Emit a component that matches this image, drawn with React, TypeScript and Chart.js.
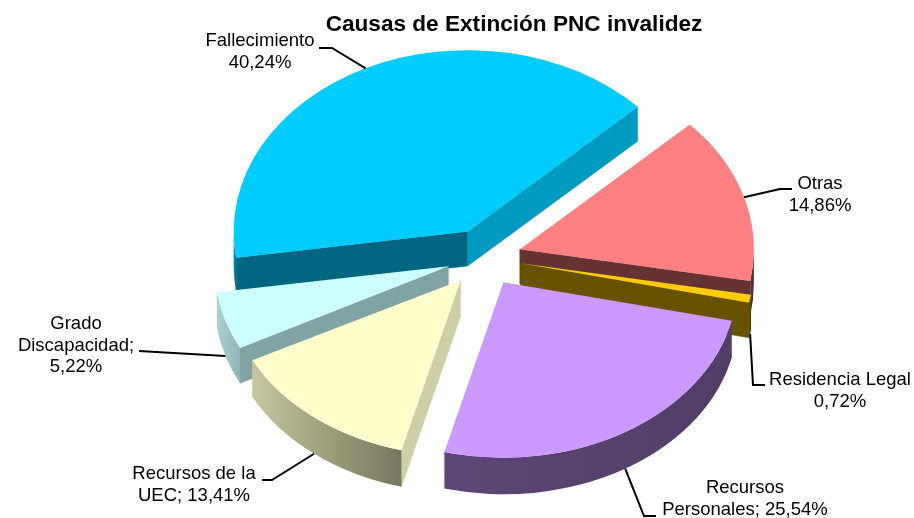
import React, { useEffect, useRef } from "react";
import { Chart, registerables } from "chart.js";

Chart.register(...registerables);

const categories = ["Fallecimiento", "Otras", "Residencia Legal", "Recursos Personales", "Recursos de la UEC", "Grado Discapacidad"];
const shares = [40.24, 14.86, 0.72, 25.54, 13.41, 5.22];
const topColors = ["#00CCFF", "#FF8080", "#FFCC00", "#CC99FF", "#FFFFCC", "#CCFFFF"];
const startWallColors = ["#006680", "#993D3D", "#806600", "#6B4F8A", "#CFCFA6", "#80A3A3"];
const endWallColors = ["#0099BF", "#663333", "#665200", "#523D66", "#CFCFA6", "#80A3A3"];
const rimLeftColors = ["#0089AB", "#663333", "#665200", "#5E4678", "#C6C6A0", "#A9D2D4"];
const rimRightColors = ["#006B86", "#4D2626", "#4D3D00", "#523D66", "#77775C", "#8FB5BA"];
const labelLines = [
  ["Fallecimiento", "40,24%"],
  ["Otras", "14,86%"],
  ["Residencia Legal", "0,72%"],
  ["Recursos", "Personales; 25,54%"],
  ["Recursos de la", "UEC; 13,41%"],
  ["Grado", "Discapacidad;", "5,22%"],
];
const labelCentreX = [260, 820, 840, 745, 194, 76];
const labelFirstLineY = [41, 184, 380, 488, 474, 324];
const leaderElbows = [
  [[319, 48], [332, 48]],
  [[792, 189], [780, 189]],
  [[765, 385], [753, 385]],
  [[656, 516], [644, 516]],
  [[262, 480], [272, 480]],
  [[139, 351]],
];

const BACK_TILT = 0.775;
const FRONT_TILT_LOSS = 0.03;
const BACK_DEPTH = 34.5;
const FRONT_DEPTH_GAIN = 2.5;
const EXPLODE = 37.4;
const RADIUS = 234;
const FONT = '"Liberation Sans", Arial, sans-serif';
const LABEL_SIZE = 18.5;
const LINE_STEP = 21.5;

const frontness = (mid: number) => Math.max(0, Math.sin(mid));
const tiltOf = (mid: number) => BACK_TILT - FRONT_TILT_LOSS * frontness(mid);
const depthOf = (mid: number) => BACK_DEPTH + FRONT_DEPTH_GAIN * frontness(mid);

function drawSolid(ctx: CanvasRenderingContext2D, arc: any, i: number) {
  const mid = (arc.startAngle + arc.endAngle) / 2;
  const TILT = tiltOf(mid);
  const DEPTH = depthOf(mid);
  const cx = arc.x + Math.cos(mid) * EXPLODE;
  const cy = arc.y + Math.sin(mid) * EXPLODE * BACK_TILT;
  const rim = (a: number) => [cx + Math.cos(a) * arc.outerRadius, cy + Math.sin(a) * arc.outerRadius * TILT];

  const inner = rim(mid);
  const wall = (angle: number, color: string) => {
    const e = rim(angle);
    const dx = e[0] - cx;
    const dy = e[1] - cy;
    const insideSide = dx * (inner[1] - cy) - dy * (inner[0] - cx);
    const downSide = dx * DEPTH;
    if (insideSide * downSide >= 0) return;
    ctx.beginPath();
    ctx.moveTo(cx, cy);
    ctx.lineTo(e[0], e[1]);
    ctx.lineTo(e[0], e[1] + DEPTH);
    ctx.lineTo(cx, cy + DEPTH);
    ctx.closePath();
    ctx.fillStyle = color;
    ctx.strokeStyle = color;
    ctx.lineWidth = 0.5;
    ctx.fill();
    ctx.stroke();
  };
  wall(arc.startAngle, startWallColors[i]);
  wall(arc.endAngle, endWallColors[i]);

  for (const shift of [-2 * Math.PI, 0, 2 * Math.PI]) {
    const a0 = Math.max(arc.startAngle + shift, 0);
    const a1 = Math.min(arc.endAngle + shift, Math.PI);
    if (a1 <= a0) continue;
    const xs = [];
    for (let s = 0; s <= 40; s++) xs.push(rim(a0 + ((a1 - a0) * s) / 40)[0]);
    const g = ctx.createLinearGradient(Math.min(...xs), 0, Math.max(...xs), 0);
    g.addColorStop(0, rimLeftColors[i]);
    g.addColorStop(1, rimRightColors[i]);
    ctx.beginPath();
    ctx.ellipse(cx, cy, arc.outerRadius, arc.outerRadius * TILT, 0, a0, a1);
    ctx.ellipse(cx, cy + DEPTH, arc.outerRadius, arc.outerRadius * TILT, 0, a1, a0, true);
    ctx.closePath();
    ctx.fillStyle = g;
    ctx.fill();
  }

  ctx.save();
  ctx.translate(cx, cy);
  ctx.scale(1, TILT);
  ctx.translate(-arc.x, -arc.y);
  arc.draw(ctx);
  ctx.restore();
}

const solidPie = {
  id: "solidPie",
  afterLayout(chart: any) {
    chart.titleBlock.left = 114;
  },
  beforeDatasetsDraw(chart: any) {
    const ctx = chart.ctx;
    const arcs = chart.getDatasetMeta(0).data;
    const order = arcs
      .map((_: any, i: number) => i)
      .sort(
        (a: number, b: number) =>
          Math.sin((arcs[a].startAngle + arcs[a].endAngle) / 2) - Math.sin((arcs[b].startAngle + arcs[b].endAngle) / 2)
      );
    ctx.save();
    order.forEach((i: number) => drawSolid(ctx, arcs[i], i));
    ctx.restore();
    return false;
  },
  afterDraw(chart: any) {
    const ctx = chart.ctx;
    const arcs = chart.getDatasetMeta(0).data;
    ctx.save();
    arcs.forEach((arc: any, i: number) => {
      const mid = (arc.startAngle + arc.endAngle) / 2;
      const ax = arc.x + Math.cos(mid) * (EXPLODE + arc.outerRadius);
      const ay =
        arc.y +
        Math.sin(mid) * EXPLODE * BACK_TILT +
        Math.sin(mid) * arc.outerRadius * tiltOf(mid) +
        (Math.sin(mid) > 0 ? depthOf(mid) : 0);
      ctx.beginPath();
      leaderElbows[i].forEach((p, n) => (n ? ctx.lineTo(p[0], p[1]) : ctx.moveTo(p[0], p[1])));
      ctx.lineTo(ax, ay);
      ctx.strokeStyle = "#000000";
      ctx.lineWidth = 2;
      ctx.stroke();
      ctx.fillStyle = "#000000";
      ctx.font = `${LABEL_SIZE}px ${FONT}`;
      ctx.textAlign = "center";
      ctx.textBaseline = "middle";
      labelLines[i].forEach((line, n) => ctx.fillText(line, labelCentreX[i], labelFirstLineY[i] + n * LINE_STEP));
    });
    ctx.restore();
  },
};

export default function App() {
  const ref = useRef<HTMLCanvasElement>(null);
  useEffect(() => {
    const chart = new Chart(ref.current as HTMLCanvasElement, {
      type: "pie",
      data: {
        labels: categories,
        datasets: [{ data: shares, backgroundColor: topColors, borderWidth: 0 }],
      },
      options: {
        responsive: false,
        animation: false,
        rotation: 261.7,
        radius: RADIUS,
        layout: { padding: { left: 54, right: 0, top: 0, bottom: 41 } },
        plugins: {
          legend: { display: false },
          tooltip: { enabled: false },
          title: {
            display: true,
            text: "Causas de Extinción PNC invalidez",
            color: "#000000",
            font: { family: FONT, size: 22.6, weight: "bold" },
            padding: { top: 11, bottom: 0 },
          },
        },
      },
      plugins: [solidPie],
    } as any);
    return () => chart.destroy();
  }, []);
  return (
    <div style={{ position: "absolute", left: 0, top: 0, width: 914, height: 518, background: "#ffffff" }}>
      <canvas ref={ref} width={914} height={518} style={{ display: "block" }} />
    </div>
  );
}
